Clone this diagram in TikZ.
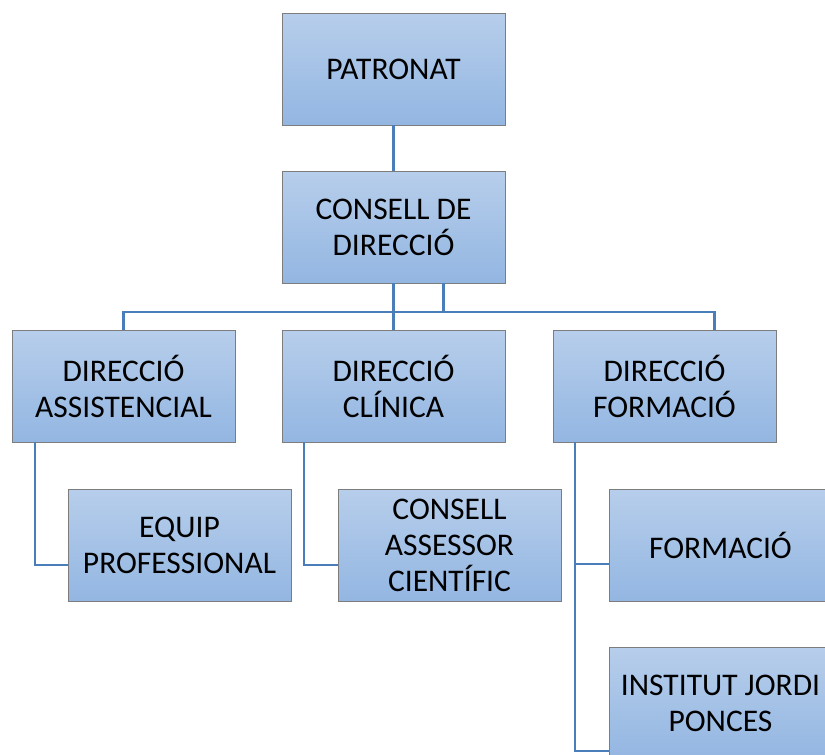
\documentclass[tikz,border=0pt]{standalone}
\usepackage{fontspec}
\setmainfont{Carlito}
\usepackage{xcolor}
\usepackage{tikz}
\usetikzlibrary{positioning}
\definecolor{boxtop}{RGB}{183,206,235}
\definecolor{boxbottom}{RGB}{147,182,226}
\definecolor{boxborder}{RGB}{125,125,125}
\definecolor{linkblue}{RGB}{74,126,187}

\begin{document}
\begin{tikzpicture}[x=1pt, y=-1pt, node distance=47pt, every node/.style={font=\fontsize{31.5}{36}\selectfont, align=center}, unit/.style={rectangle, draw=boxborder, line width=1pt, top color=boxtop, bottom color=boxbottom, minimum width=223pt, minimum height=112pt, inner sep=0pt, outer sep=0pt}, link/.style={draw=linkblue, line width=2.5pt}]
\path[use as bounding box, clip] (0,0) rectangle (825,755);
\node[unit] (patronat) at (393.5,69) {PATRONAT};
\node[unit, below=46pt of patronat] (consell) {CONSELL DE\\DIRECCIÓ};
\node[unit, below=of consell] (clinica) {DIRECCIÓ\\CLÍNICA};
\node[unit, left=of clinica] (assist) {DIRECCIÓ\\ASSISTENCIAL};
\node[unit, right=48pt of clinica] (dform) {DIRECCIÓ\\FORMACIÓ};
\node[unit, below=of assist, xshift=56pt] (equip) {EQUIP\\PROFESSIONAL};
\node[unit, below=of clinica, xshift=56pt] (assessor) {CONSELL\\ASSESSOR\\CIENTÍFIC};
\node[unit, below=of dform, xshift=56pt] (formacio) {FORMACIÓ};
\node[unit, below=46pt of formacio] (institut) {INSTITUT JORDI\\PONCES};
\coordinate (bus) at ([yshift=18pt]clinica.north);

\draw[link] (patronat) -- (consell);
\draw[link] (consell) -- (clinica);
\draw[link] ([xshift=50pt]consell.south) -- ([xshift=50pt]consell.south |- bus);
\draw[link] (assist.north) |- (bus) -| ([xshift=50pt]dform.north);
\draw[link] ([xshift=23pt]assist.south west) |- ([yshift=-20pt]equip.west);
\draw[link] ([xshift=22pt]clinica.south west) |- ([yshift=-20pt]assessor.west);
\draw[link] ([xshift=22pt]dform.south west) |- ([yshift=-19pt]formacio.west);
\draw[link] ([xshift=22pt]dform.south west) |- ([yshift=-48pt]institut.west);
\end{tikzpicture}
\end{document}
